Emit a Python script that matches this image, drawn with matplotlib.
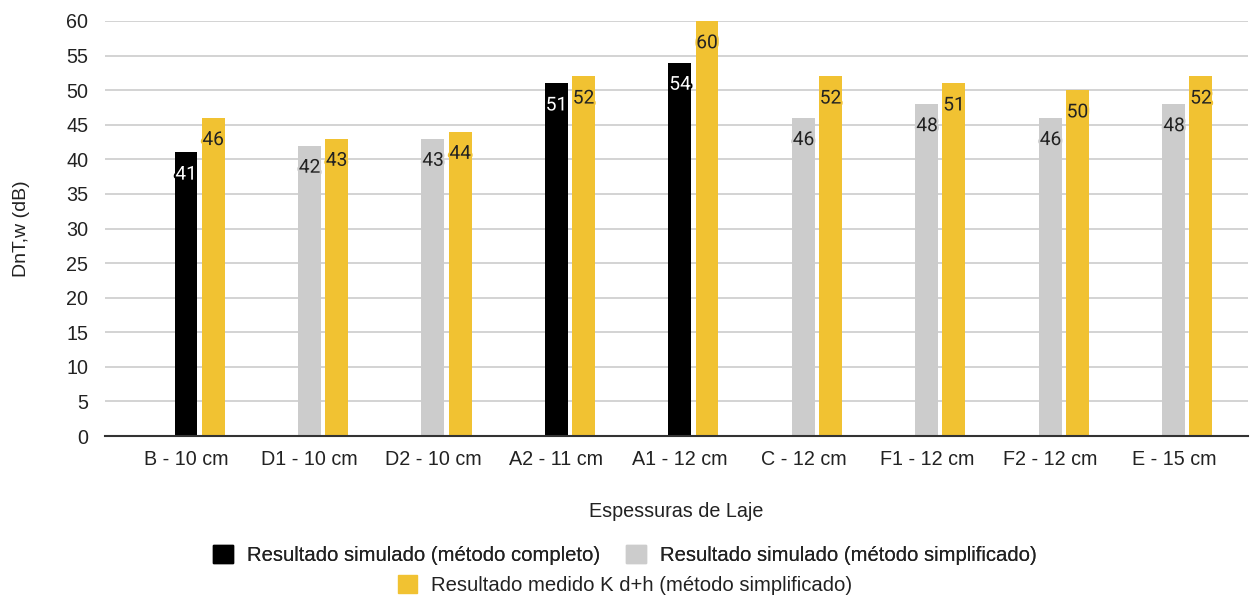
import matplotlib
matplotlib.use("Agg")
import matplotlib.pyplot as plt
import matplotlib.patheffects as pe
from matplotlib.patches import Patch
import numpy as np

categories = ["B - 10 cm", "D1 - 10 cm", "D2 - 10 cm", "A2 - 11 cm", "A1 - 12 cm",
              "C - 12 cm", "F1 - 12 cm", "F2 - 12 cm", "E - 15 cm"]
simulado_completo = [41, None, None, 51, 54, None, None, None, None]
simulado_simplificado = [None, 42, 43, None, None, 46, 48, 46, 48]
medido = [46, 43, 44, 52, 60, 52, 51, 50, 52]
yticks = list(range(0, 61, 5))

series_names = ["Resultado simulado (método completo)",
                "Resultado simulado (método simplificado)",
                "Resultado medido K d+h (método simplificado)"]

C_BLACK = "#000000"
C_GRAY = "#cccccc"
C_YELLOW = "#f1c232"

plt.rcParams['font.family'] = ['Liberation Sans', 'DejaVu Sans']

fig = plt.figure(figsize=(12.5, 5.97), dpi=100)
ax = fig.add_axes([105/1250, 1 - 436/597, (1248-105)/1250, (436-21)/597])

x = np.arange(len(categories))
w = 0.186
off = 0.219

def labels(xs, vals, color, txtcolor):
    for xi, v in zip(xs, vals):
        ax.annotate(str(v), (xi, v), xytext=(0, -16), textcoords="offset points",
                    ha="center", va="center", fontsize=13.8, family="Roboto",
                    color=txtcolor, zorder=5,
                    path_effects=[pe.withStroke(linewidth=3, foreground=color)])

xc = [xi for xi, v in zip(x, simulado_completo) if v is not None]
vc = [v for v in simulado_completo if v is not None]
xs = [xi for xi, v in zip(x, simulado_simplificado) if v is not None]
vs = [v for v in simulado_simplificado if v is not None]

ax.bar(xc, vc, width=w, color=C_BLACK, zorder=3)
ax.bar(xs, vs, width=w, color=C_GRAY, zorder=3)
ax.bar(x + off, medido, width=w, color=C_YELLOW, zorder=3)
labels(xc, vc, C_BLACK, "white")
labels(xs, vs, C_GRAY, "#222222")
labels(x + off, medido, C_YELLOW, "#222222")

ax.set_xlim(-0.656, 8.6)
ax.set_ylim(0, 60)
ax.set_yticks(yticks)
ax.set_xticks(x)
ax.set_xticklabels(categories)
ax.tick_params(axis="both", length=0, labelsize=14.2, colors="#222222")
ax.tick_params(axis="y", pad=12)
ax.tick_params(axis="x", pad=10)
ax.yaxis.grid(True, color="#cccccc", lw=1.2, zorder=0)
ax.set_axisbelow(True)
for s in ["top", "right", "left"]:
    ax.spines[s].set_visible(False)
ax.spines["bottom"].set_color("#333333")
ax.spines["bottom"].set_linewidth(1.5)
ax.spines["bottom"].set_zorder(4)

ax.set_ylabel("DnT,w (dB)", fontsize=14, color="#222222", labelpad=26)
ax.set_xlabel("Espessuras de Laje", fontsize=14.2, color="#222222", labelpad=24)

h1 = [Patch(color=C_BLACK), Patch(color=C_GRAY)]
leg1 = fig.legend(h1, series_names[:2], loc="center", bbox_to_anchor=(0.5, 1 - 555/597),
                  ncol=2, frameon=False, fontsize=14.6, handlelength=0.95, handleheight=0.95,
                  handletextpad=0.7, columnspacing=1.3, labelcolor="#222222")
h2 = [Patch(color=C_YELLOW)]
leg2 = fig.legend(h2, series_names[2:], loc="center", bbox_to_anchor=(0.5, 1 - 585/597),
                  frameon=False, fontsize=14.6, handlelength=0.95, handleheight=0.95,
                  handletextpad=0.7, labelcolor="#222222")
fig.add_artist(leg1)

fig.savefig("out.png", dpi=100)
